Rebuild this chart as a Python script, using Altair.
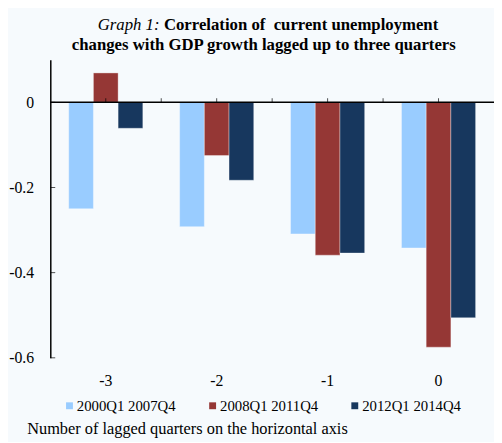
import altair as alt
import pandas as pd

# ---- data ----
lags = ["-3", "-2", "-1", "0"]
series_names = ["2000Q1 2007Q4", "2008Q1 2011Q4", "2012Q1 2014Q4"]
s_2000_2007 = [-0.250, -0.292, -0.309, -0.342]
s_2008_2011 = [0.069, -0.125, -0.359, -0.575]
s_2012_2014 = [-0.061, -0.183, -0.354, -0.506]
colors = ["#99CCFF", "#953735", "#17375E"]
y_ticks = [0, -0.2, -0.4, -0.6]

title_italic = ["Graph 1:"]
title_bold_1 = ["Correlation of\u00a0 current unemployment"]
title_bold_2 = ["changes with GDP growth lagged up to three quarters"]
footer = ["Number of lagged quarters on the horizontal axis"]

rows = []
for name, vals in zip(series_names, [s_2000_2007, s_2008_2011, s_2012_2014]):
    for lag, v in zip(lags, vals):
        rows.append({"lag": lag, "series": name, "value": v})
df = pd.DataFrame(rows)

FONT = "Liberation Serif"

x_enc = alt.X(
    "lag:N", sort=lags,
    scale=alt.Scale(paddingInner=0, paddingOuter=0),
    axis=alt.Axis(title=None, orient="bottom", labelAngle=0, domain=False, ticks=False,
                  labelPadding=15, labelFont=FONT, labelFontSize=16, labelColor="black"),
)

bars = alt.Chart(df).mark_bar(stroke="white", strokeOpacity=0.35, strokeWidth=1).encode(
    x=x_enc,
    xOffset=alt.XOffset("series:N", sort=series_names,
                        scale=alt.Scale(paddingOuter=0.745, paddingInner=0)),
    y=alt.Y("value:Q",
            scale=alt.Scale(domain=[-0.6, 0.1], nice=False, zero=False),
            axis=alt.Axis(title=None, values=y_ticks, grid=False, ticks=False,
                          domainColor="black", domainWidth=1.5,
                          labelExpr="datum.value == 0 ? '0' : '' + datum.value",
                          labelPadding=17, labelFont=FONT, labelFontSize=16,
                          labelColor="black")),
    color=alt.Color("series:N", sort=series_names,
                    scale=alt.Scale(domain=series_names, range=colors),
                    legend=alt.Legend(title=None, orient="none", legendX=12, legendY=344,
                                      direction="horizontal", symbolType="square",
                                      symbolSize=49, symbolStrokeWidth=0,
                                      labelFont=FONT, labelFontSize=15, labelColor="black",
                                      columnPadding=29.5, padding=0, labelOffset=0)),
)

zero_line = alt.Chart(pd.DataFrame({"v": [0]})).mark_rule(color="black", strokeWidth=1.5).encode(
    y=alt.Y("v:Q")
)

ytick_df = pd.DataFrame({"v": y_ticks})
y_ticks_in = alt.Chart(ytick_df).mark_tick(color="black", thickness=1, size=5, orient="horizontal").encode(
    y=alt.Y("v:Q"), x=alt.value(2.5)
)

center_ticks = alt.Chart(pd.DataFrame({"lag": lags})).mark_tick(
    color="black", thickness=1, size=4, orient="vertical", yOffset=-2
).encode(x=alt.X("lag:N", sort=lags, bandPosition=0.5), y=alt.datum(0))

edge_ticks = alt.Chart(pd.DataFrame({"lag": lags[1:]})).mark_tick(
    color="black", thickness=1, size=4, orient="vertical", yOffset=-2
).encode(x=alt.X("lag:N", sort=lags, bandPosition=0), y=alt.datum(0))

t1 = alt.Chart(pd.DataFrame({"t": title_italic})).mark_text(
    font=FONT, fontSize=17, fontStyle="italic", align="right", baseline="alphabetic", color="black"
).encode(text="t:N", x=alt.value(111), y=alt.value(-30))

t2 = alt.Chart(pd.DataFrame({"t": title_bold_1})).mark_text(
    font=FONT, fontSize=17, fontWeight="bold", align="left", baseline="alphabetic", color="black"
).encode(text="t:N", x=alt.value(115.5), y=alt.value(-30))

t3 = alt.Chart(pd.DataFrame({"t": title_bold_2})).mark_text(
    font=FONT, fontSize=17, fontWeight="bold", align="center", baseline="alphabetic", color="black"
).encode(text="t:N", x=alt.value(217), y=alt.value(-10))

foot = alt.Chart(pd.DataFrame({"t": footer})).mark_text(
    font=FONT, fontSize=16.6, align="left", baseline="alphabetic", color="black"
).encode(text="t:N", x=alt.value(-23.5), y=alt.value(380))

chart = alt.layer(
    bars, zero_line, y_ticks_in, center_ticks, edge_ticks, t1, t2, t3, foot
).properties(
    width=451, height=303,
    padding={"left": 43, "top": 49, "right": 0, "bottom": 82},
    autosize=alt.AutoSizeParams(type="none"),
    background="#F6FAFD",
).configure_view(stroke=None)

chart.save("out.html", embed_options={"renderer": "svg", "actions": False})
